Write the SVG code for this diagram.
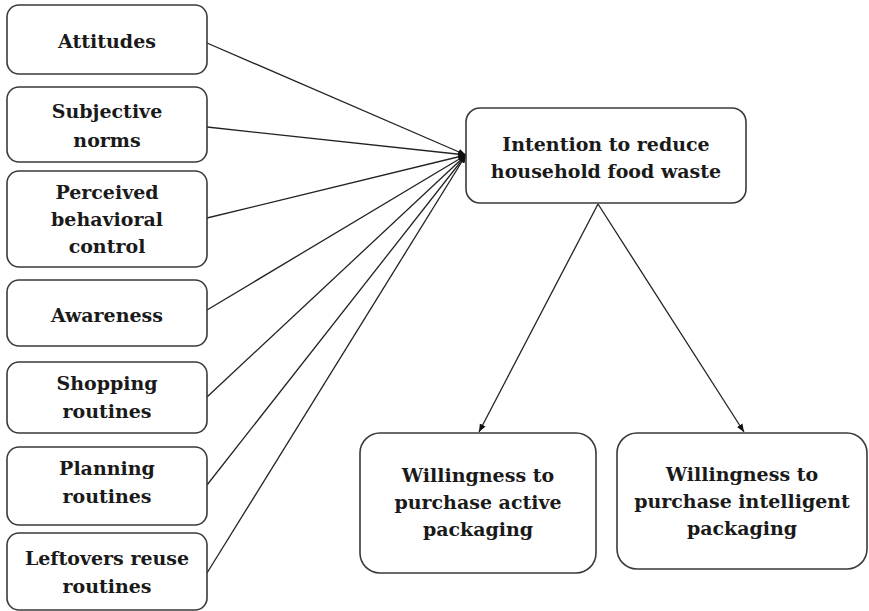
<svg xmlns="http://www.w3.org/2000/svg" width="869" height="611" viewBox="0 0 869 611">
<defs>
<marker id="arr" viewBox="0 0 10 10" refX="10" refY="5" markerWidth="8" markerHeight="8" markerUnits="userSpaceOnUse" orient="auto">
<path d="M0,1 L10,5 L0,9 Z" fill="#111"/>
</marker>
<style>
.box{fill:#fff;stroke:#3a3a3a;stroke-width:1.6}
.t{font-family:"DejaVu Serif","Liberation Serif",serif;font-weight:bold;font-size:19px;fill:#1a1a1a;text-anchor:middle}
.c{stroke:#222;stroke-width:1.3;fill:none;marker-end:url(#arr)}
</style>
</defs>
<rect width="869" height="611" fill="#fff"/>
<g id="connectors">
<line class="c" x1="207" y1="43" x2="466" y2="155"/>
<line class="c" x1="207" y1="127" x2="466" y2="155"/>
<line class="c" x1="207" y1="218" x2="466" y2="155"/>
<line class="c" x1="207" y1="310" x2="466" y2="155"/>
<line class="c" x1="207" y1="397" x2="466" y2="155"/>
<line class="c" x1="207" y1="485" x2="466" y2="155"/>
<line class="c" x1="207" y1="573" x2="466" y2="155"/>
<line class="c" x1="598" y1="204" x2="479" y2="432"/>
<line class="c" x1="598" y1="204" x2="744" y2="432"/>
</g>
<g id="attitudes"><rect class="box" x="7" y="5" width="200" height="69" rx="12"/><text class="t" x="107" y="48">Attitudes</text></g>
<g id="subjective-norms"><rect class="box" x="7" y="87" width="200" height="75" rx="12"/><text class="t" x="107" y="118">Subjective</text><text class="t" x="107" y="147">norms</text></g>
<g id="perceived-behavioral-control"><rect class="box" x="7" y="171" width="200" height="96" rx="12"/><text class="t" x="107" y="199">Perceived</text><text class="t" x="107" y="226">behavioral</text><text class="t" x="107" y="253">control</text></g>
<g id="awareness"><rect class="box" x="7" y="280" width="200" height="66" rx="12"/><text class="t" x="107" y="322">Awareness</text></g>
<g id="shopping-routines"><rect class="box" x="7" y="362" width="200" height="71" rx="12"/><text class="t" x="107" y="390">Shopping</text><text class="t" x="107" y="418">routines</text></g>
<g id="planning-routines"><rect class="box" x="7" y="447" width="200" height="78" rx="12"/><text class="t" x="107" y="475">Planning</text><text class="t" x="107" y="503">routines</text></g>
<g id="leftovers-reuse-routines"><rect class="box" x="7" y="533" width="200" height="77" rx="12"/><text class="t" x="107" y="565">Leftovers reuse</text><text class="t" x="107" y="593">routines</text></g>
<g id="intention"><rect class="box" x="466" y="108" width="280" height="95" rx="14"/><text class="t" x="606" y="151">Intention to reduce</text><text class="t" x="606" y="178">household food waste</text></g>
<g id="active-packaging"><rect class="box" x="360" y="433" width="236" height="140" rx="20"/><text class="t" x="478" y="482">Willingness to</text><text class="t" x="478" y="509">purchase active</text><text class="t" x="478" y="536">packaging</text></g>
<g id="intelligent-packaging"><rect class="box" x="617" y="433" width="250" height="136" rx="20"/><text class="t" x="742" y="481">Willingness to</text><text class="t" x="742" y="508">purchase intelligent</text><text class="t" x="742" y="535">packaging</text></g>
</svg>
